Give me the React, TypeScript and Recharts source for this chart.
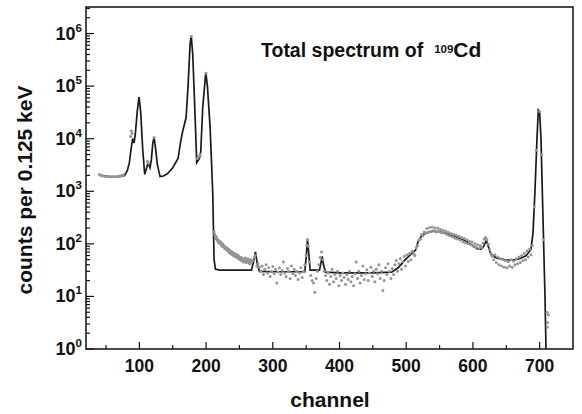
import React from 'react';
import { ComposedChart, Line, Scatter, XAxis, YAxis, ReferenceArea } from 'recharts';

// fitted spectrum (channel, counts)
const fitCurve: [number, number][] = [
  [40, 2000], [50, 1950], [60, 1860], [70, 1900], [78, 2000], [82, 2500], [85, 3500],
  [88, 7000], [90, 10000], [92, 8300], [94, 12500], [97, 35000], [99.5, 62000],
  [102, 32000], [105, 6300], [108, 2100], [111, 2800], [113, 3500], [116, 2800],
  [118, 4000], [120, 8000], [122, 10700], [124, 7000], [127, 3200], [131, 1900],
  [136, 1950], [142, 2150], [150, 2800], [158, 4200], [162, 9000], [165, 14000],
  [170, 25000], [173, 100000], [176, 630000], [177.7, 910000], [180, 400000],
  [183, 40000], [186, 3500], [190, 4200], [192, 5600], [195, 40000], [199.5, 182000],
  [202, 100000], [206, 16600], [208, 4000], [210, 900], [212, 50], [214, 33],
  [220, 31.6], [268, 31.6], [271, 45], [274, 70], [277, 40], [280, 30], [300, 29.5],
  [348, 29.5], [350, 56], [352, 126], [354, 63], [356, 31.6], [370, 31.6], [372, 42],
  [374, 58], [376, 40], [379, 29], [400, 28], [450, 28], [478, 29], [488, 35],
  [498, 49], [510, 69], [514, 76], [518, 112], [524, 148], [532, 166], [540, 174],
  [550, 170], [560, 158], [575, 135], [590, 112], [607, 79], [612, 79], [616, 89],
  [620, 117], [623, 89], [627, 63], [635, 54], [650, 49], [660, 49], [670, 52],
  [680, 60], [687, 79], [690, 158], [693, 1000], [696, 10000], [698, 35000],
  [700, 32000], [702, 10000], [704, 1000], [706, 100], [708, 10], [710, 0.5],
];

// measured points, high-count part (mostly hidden under the fit)
const dotsPeaks: [number, number][] = [
  [40, 2080], [43, 2020], [46, 1960], [49, 1920], [52, 1900], [55, 1900], [58, 1880],
  [61, 1900], [64, 1890], [67, 1920], [70, 1960], [73, 1970], [76, 2060],
  [87, 11000], [88, 14000], [89, 12500], [112, 3700], [114, 3400],
  [187, 4200], [189, 4600], [191, 5000], [122, 10500], [178, 880000], [200, 175000],
];

const dotsTail: [number, number][] = [
  [212, 170], [213, 150], [214, 140], [215, 125], [216, 135], [217, 115], [218, 120],
  [219, 105], [220, 112], [221, 100], [222, 108], [223, 95], [224, 90], [225, 100],
  [226, 88], [227, 92], [228, 82], [229, 86], [230, 78], [231, 85], [232, 75], [233, 80],
  [234, 70], [235, 76], [236, 66], [237, 72], [238, 64], [239, 70], [240, 62], [241, 66],
  [242, 58], [243, 65], [244, 60], [245, 56], [246, 63], [247, 55], [248, 60], [249, 52],
  [250, 57], [251, 50], [252, 55], [253, 48], [254, 54], [255, 50], [256, 45], [257, 52],
  [258, 47], [259, 54], [260, 44], [261, 50], [262, 46], [263, 52], [264, 43], [265, 48],
  [266, 42], [267, 50], [268, 45],
];

const dotsFlat: [number, number][] = [
  [270, 48], [272, 55], [274, 60], [276, 38], [278, 42], [280, 36], [282, 30], [284, 38],
  [286, 26], [288, 33], [290, 40], [292, 28], [294, 35], [296, 24], [298, 30], [300, 37],
  [302, 27], [304, 33], [306, 18], [308, 29], [310, 35], [312, 26], [314, 31], [316, 45],
  [318, 28], [320, 24], [322, 34], [324, 30], [326, 22], [328, 38], [330, 27], [332, 33],
  [334, 25], [336, 30], [338, 21], [340, 28], [342, 35], [344, 23], [346, 30], [348, 40],
  [350, 60], [351, 95], [352, 120], [353, 90], [355, 45], [357, 25], [359, 20], [361, 18],
  [363, 12], [365, 22], [367, 30], [369, 40], [371, 55], [373, 70], [375, 50], [377, 30],
  [379, 25], [381, 20], [383, 28], [385, 17], [387, 24], [389, 33], [391, 19], [393, 26],
  [395, 22], [397, 30], [399, 16], [401, 25], [403, 20], [405, 28], [407, 23], [409, 17],
  [411, 26], [413, 21], [415, 30], [417, 19], [419, 24], [421, 16], [423, 27], [425, 45],
  [427, 22], [429, 30], [431, 18], [433, 25], [435, 38], [437, 21], [439, 27], [441, 32],
  [443, 20], [445, 28], [447, 36], [449, 24], [451, 30], [453, 19], [455, 33], [457, 27],
  [459, 40], [461, 22], [463, 30], [465, 13], [467, 20], [469, 35], [471, 26], [473, 42],
  [475, 30], [477, 22], [479, 34],
];

const dotsBump: [number, number][] = [
  [481, 26], [483, 40], [485, 48], [487, 30], [489, 42], [491, 52], [493, 33], [495, 46],
  [497, 58], [499, 38], [501, 62], [503, 46], [505, 66], [507, 50], [509, 72], [511, 64],
  [513, 60], [515, 84], [517, 92], [519, 118], [521, 122], [523, 150], [525, 142],
  [527, 168], [529, 160], [531, 195], [533, 165], [535, 205], [537, 172], [539, 210],
  [541, 178], [543, 200], [545, 168], [547, 198], [549, 172], [551, 188], [553, 162],
  [555, 182], [557, 160], [559, 176], [561, 150], [563, 166], [565, 142], [567, 158],
  [569, 136], [571, 152], [573, 128], [575, 146], [577, 124], [579, 140], [581, 118],
  [583, 132], [585, 110], [587, 126], [589, 104], [591, 120], [593, 100], [595, 112],
  [597, 96], [599, 108], [601, 90], [603, 100], [605, 86], [607, 96], [609, 82],
  [611, 92], [613, 86], [615, 104], [617, 124], [619, 132], [621, 120], [623, 98],
  [625, 78], [627, 66], [629, 58], [631, 50], [633, 62], [635, 44], [637, 56], [639, 40],
  [641, 52], [643, 38], [645, 50], [647, 36], [649, 48], [651, 35], [653, 46], [655, 38],
  [657, 50], [659, 36], [661, 47], [663, 40], [665, 52], [667, 42], [669, 56], [671, 44],
  [673, 60], [675, 48], [677, 66], [679, 50], [681, 74], [683, 56], [685, 80], [687, 62],
  [689, 92],
];

const dotsEnd: [number, number][] = [
  [692, 500], [695, 6000], [700, 33000], [703, 5000], [706, 120],
  [711, 5], [711.5, 2.6], [712, 3.2], [713, 4.5],
];

const X_MAJOR = [100, 200, 300, 400, 500, 600, 700];
const X_MINOR = [50, 150, 250, 350, 450, 550, 650];
const Y_DECADES = [1, 10, 100, 1000, 10000, 100000, 1000000];
const Y_MINOR_STEPS = [2, 3, 4, 5, 6, 7, 8, 9];

const X_DOMAIN: [number, number] = [20, 750];
const Y_DOMAIN: [number, number] = [1, 3.2e6];

const fitRows = fitCurve.map(([ch, v]) => ({ ch, v }));
const dotRows = [...dotsPeaks, ...dotsTail, ...dotsFlat, ...dotsBump, ...dotsEnd].map(([ch, v]) => ({ ch, v }));

const yTicks = [
  ...Y_DECADES,
  ...Y_DECADES.flatMap(d => Y_MINOR_STEPS.map(m => d * m)).filter(v => v < Y_DOMAIN[1]),
].sort((a, b) => a - b);
const xTicks = [...X_MAJOR, ...X_MINOR].sort((a, b) => a - b);

const FONT = '"Liberation Sans", Arial, Helvetica, sans-serif';
const INK = '#111';

const YTick = (props: any) => {
  const { x, y, payload } = props;
  const lg = Math.log10(payload.value);
  const exp = Math.round(lg);
  const major = Math.abs(lg - exp) < 1e-6;
  return (
    <g>
      <line x1={x} x2={x + (major ? 8 : 4)} y1={y} y2={y} stroke={INK} strokeWidth={1.2} />
      {major && (
        <text x={x - 4} y={y + 6} textAnchor="end" fontFamily={FONT} fontWeight="bold" fontSize={18} fill={INK}>
          <tspan>10</tspan>
          <tspan dy={-8} fontSize={11.5}>{exp}</tspan>
        </text>
      )}
    </g>
  );
};

const BottomTick = (props: any) => {
  const { x, y, payload } = props;
  const major = X_MAJOR.includes(payload.value);
  return (
    <g>
      <line x1={x} x2={x} y1={y} y2={y - (major ? 7 : 4)} stroke={INK} strokeWidth={1.2} />
      {major && (
        <text x={x} y={y + 23} textAnchor="middle" fontFamily={FONT} fontWeight="bold" fontSize={17.5} fill={INK}>
          {payload.value}
        </text>
      )}
    </g>
  );
};

const TopTick = (props: any) => {
  const { x, y, payload } = props;
  const major = X_MAJOR.includes(payload.value);
  return <line x1={x} x2={x} y1={y} y2={y + (major ? 8 : 5)} stroke={INK} strokeWidth={1.2} />;
};

const Dot = (props: any) => <circle cx={props.cx} cy={props.cy} r={1.5} fill="#959595" />;

export default function App() {
  return (
    <div style={styles.page}>
      <ComposedChart width={582} height={414} margin={{ top: 7, right: 9, left: 0, bottom: 0 }}>
        <XAxis
          dataKey="ch"
          type="number"
          domain={X_DOMAIN}
          ticks={xTicks}
          interval={0}
          allowDataOverflow
          height={65}
          tickSize={0}
          tickMargin={0}
          tickLine={false}
          axisLine={false}
          tick={<BottomTick />}
        />
        <XAxis
          xAxisId="top"
          orientation="top"
          dataKey="ch"
          type="number"
          domain={X_DOMAIN}
          ticks={xTicks}
          interval={0}
          allowDataOverflow
          height={0}
          tickSize={0}
          tickMargin={0}
          tickLine={false}
          axisLine={false}
          tick={<TopTick />}
        />
        <YAxis
          dataKey="v"
          type="number"
          scale="log"
          domain={Y_DOMAIN}
          ticks={yTicks}
          interval={0}
          allowDataOverflow
          width={86}
          tickSize={0}
          tickMargin={0}
          tickLine={false}
          axisLine={false}
          tick={<YTick />}
        />
        <ReferenceArea
          x1={X_DOMAIN[0]}
          x2={X_DOMAIN[1]}
          y1={Y_DOMAIN[0]}
          y2={Y_DOMAIN[1]}
          fill="none"
          fillOpacity={0}
          stroke={INK}
          strokeWidth={1.5}
        />
        <Scatter data={dotRows} dataKey="v" shape={<Dot />} isAnimationActive={false} />
        <Line
          data={fitRows}
          dataKey="v"
          type="linear"
          stroke="#1a1a1a"
          strokeWidth={1.7}
          dot={false}
          activeDot={false}
          isAnimationActive={false}
        />
      </ComposedChart>

      <div style={styles.title}>
        Total spectrum of<sup style={styles.sup}>109</sup><span style={styles.cd}>Cd</span>
      </div>
      <div style={styles.yLabel}>counts per 0.125 keV</div>
      <div style={styles.xLabel}>channel</div>
    </div>
  );
}

const styles: Record<string, React.CSSProperties> = {
  page: {
    position: 'absolute',
    left: 0,
    top: 0,
    width: 582,
    height: 414,
    background: '#fff',
    fontFamily: FONT,
  },
  title: {
    position: 'absolute',
    left: 261,
    top: 39,
    fontSize: 19.5,
    fontWeight: 'bold',
    color: INK,
    whiteSpace: 'nowrap',
    lineHeight: '22px',
  },
  sup: {
    fontSize: 11.5,
    verticalAlign: 'top',
    position: 'relative',
    top: -1,
    marginLeft: 11,
  },
  cd: {
    fontSize: 21,
  },
  yLabel: {
    position: 'absolute',
    left: 25,
    top: 190,
    transform: 'translate(-50%, -50%) rotate(-90deg)',
    fontSize: 21,
    fontWeight: 'bold',
    color: INK,
    whiteSpace: 'nowrap',
  },
  xLabel: {
    position: 'absolute',
    left: 330,
    top: 400,
    transform: 'translate(-50%, -50%)',
    fontSize: 21,
    fontWeight: 'bold',
    color: INK,
    whiteSpace: 'nowrap',
  },
};
